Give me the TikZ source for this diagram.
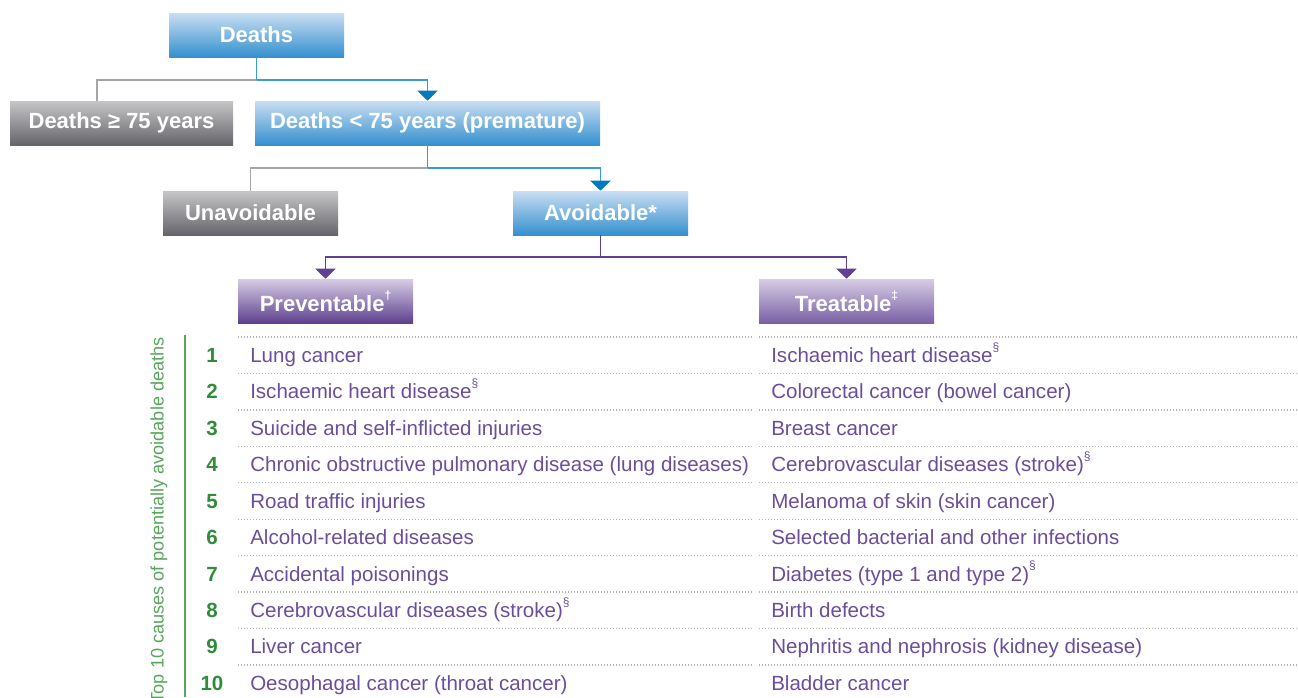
\documentclass[tikz,border=0pt]{standalone}
\usepackage{fontspec}
\setmainfont{Liberation Sans}
\usetikzlibrary{arrows.meta}
\definecolor{bluetop}{RGB}{200,222,242}
\definecolor{bluebot}{RGB}{52,144,206}
\definecolor{graytop}{RGB}{198,198,200}
\definecolor{graybot}{RGB}{100,100,106}
\definecolor{purtop}{RGB}{214,204,228}
\definecolor{purbot}{RGB}{94,64,142}
\definecolor{purbotl}{RGB}{122,96,164}
\definecolor{lineblue}{RGB}{58,154,212}
\definecolor{arrblue}{RGB}{8,120,190}
\definecolor{linegray}{RGB}{165,165,165}
\definecolor{linepur}{RGB}{96,64,145}
\definecolor{listpur}{RGB}{106,78,156}
\definecolor{numgreen}{RGB}{48,140,58}
\definecolor{sidegreen}{RGB}{88,166,92}
\definecolor{dotgray}{RGB}{180,180,180}
\newcommand\SmallSup[1]{\raisebox{0.55em}{\fontsize{9}{9}\selectfont #1}}
\newcommand\SecSup{\SmallSup{§}}
\tikzset{
  box/.style={draw=none, inner sep=0pt, minimum height=33pt, minimum width=131.25pt,
    text=white, font=\fontsize{16.5}{18}\selectfont\bfseries},
  bluebox/.style={box, top color=bluetop, bottom color=bluebot},
  graybox/.style={box, top color=graytop, bottom color=graybot},
  purbox/.style={box, top color=purtop, bottom color=purbot},
  purboxl/.style={box, top color=purtop, bottom color=purbotl},
  conn/.style={line width=1.1pt},
  bconn/.style={conn, draw=lineblue},
  gconn/.style={conn, draw=linegray},
  pconn/.style={conn, draw=linepur},
  barrow/.style={-{Triangle[width=15pt,length=7.5pt,color=arrblue]}},
  parrow/.style={-{Triangle[width=15pt,length=7.5pt,color=linepur]}},
  listtxt/.style={anchor=base west, inner sep=0pt, text=listpur, font=\fontsize{15.4}{17}\selectfont},
  numtxt/.style={anchor=base, inner sep=0pt, text=numgreen, font=\fontsize{15.4}{17}\selectfont\bfseries},
  dotline/.style={draw=dotgray, line width=1pt, dash pattern=on 0.8pt off 1.45pt},
}
\begin{document}
\begin{tikzpicture}[x=0.75pt,y=-0.75pt]
\useasboundingbox (0,0) rectangle (1298,697);
% boxes
\node[bluebox] (deaths) at (256.5,35) {Deaths};
\node[graybox, minimum width=167.25pt] (old) at (121.5,123) {Deaths ≥ 75 years};
\node[bluebox, minimum width=258.75pt] (prem) at (427.5,123) {Deaths < 75 years (premature)};
\node[graybox] (unav) at (250.5,213) {Unavoidable};
\node[bluebox] (avoid) at (600.5,213) {Avoidable*};
\node[purbox] (prev) at (325.5,301) {Preventable\SmallSup{†}};
\node[purboxl] (treat) at (846.5,301) {Treatable\SmallSup{‡}};
% junctions
\coordinate (j1) at (256.5,80);
\coordinate (oldin) at (97,101);
\coordinate (j2) at (427.5,168);
\coordinate (j3) at (600.5,257);
% connectors
\draw[gconn] (j1) -| (oldin);
\draw[bconn] (deaths.south) -- (j1);
\draw[bconn, barrow] (j1) -| (prem.north);
\draw[gconn] (j2) -| (unav.north);
\draw[bconn] (prem.south) -- (j2);
\draw[bconn, barrow] (j2) -| (avoid.north);
\draw[pconn] (avoid.south) -- (j3);
\draw[pconn, parrow] (j3) -| (prev.north);
\draw[pconn, parrow] (j3) -| (treat.north);
% side label
\draw[line width=1.1pt, draw=sidegreen] (185,335) -- (185,697);
\node[rotate=90, anchor=east, inner sep=0pt, text=sidegreen, font=\fontsize{13.6}{15}\selectfont] (side) at (159,337) {Top 10 causes of potentially avoidable deaths};
% table
\foreach \k in {0,...,9}{
  \draw[dotline] (238,337+36.45*\k) -- (753,337+36.45*\k);
  \draw[dotline] (759,337+36.45*\k) -- (1298,337+36.45*\k);
}
\foreach \i/\a/\b in {
  1/{Lung cancer}/{Ischaemic heart disease\SecSup},
  2/{Ischaemic heart disease\SecSup}/{Colorectal cancer (bowel cancer)},
  3/{Suicide and self-inflicted injuries}/{Breast cancer},
  4/{Chronic obstructive pulmonary disease (lung diseases)}/{Cerebrovascular diseases (stroke)\SecSup},
  5/{Road traffic injuries}/{Melanoma of skin (skin cancer)},
  6/{Alcohol-related diseases}/{Selected bacterial and other infections},
  7/{Accidental poisonings}/{Diabetes (type 1 and type 2)\SecSup},
  8/{Cerebrovascular diseases (stroke)\SecSup}/{Birth defects},
  9/{Liver cancer}/{Nephritis and nephrosis (kidney disease)},
  10/{Oesophagal cancer (throat cancer)}/{Bladder cancer}}{
  \node[numtxt] (num\i) at (212,337+36.45*\i-36.45+25.3) {\i};
  \node[listtxt] (pv\i) at (250,337+36.45*\i-36.45+25.3) {\a};
  \node[listtxt] (tr\i) at (771,337+36.45*\i-36.45+25.3) {\b};
}
\end{tikzpicture}
\end{document}
